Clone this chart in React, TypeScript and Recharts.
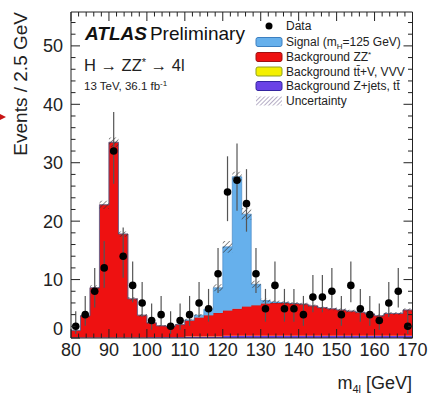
import React from 'react';
import { ComposedChart, Area, Line, Scatter, ErrorBar, XAxis, YAxis } from 'recharts';

// Bin lower edges (GeV), 2.5 GeV bins
const binLow = [80, 82.5, 85, 87.5, 90, 92.5, 95, 97.5, 100, 102.5, 105, 107.5, 110, 112.5, 115, 117.5, 120, 122.5, 125, 127.5, 130, 132.5, 135, 137.5, 140, 142.5, 145, 147.5, 150, 152.5, 155, 157.5, 160, 162.5, 165, 167.5];
const binWidth = 2.5;

// Stacked expectations (events / bin)
const zjets = [0.08, 0.08, 0.08, 0.08, 0.08, 0.08, 0.08, 0.08, 0.12, 0.12, 0.12, 0.12, 0.2, 0.2, 0.2, 0.2, 0.35, 0.35, 0.35, 0.35, 0.35, 0.35, 0.35, 0.35, 0.35, 0.35, 0.35, 0.35, 0.35, 0.35, 0.35, 0.35, 0.35, 0.35, 0.35, 0.35];
const ttv = [0.02, 0.02, 0.02, 0.02, 0.02, 0.02, 0.02, 0.02, 0.02, 0.02, 0.02, 0.02, 0.05, 0.05, 0.05, 0.05, 0.05, 0.05, 0.05, 0.05, 0.05, 0.05, 0.05, 0.05, 0.05, 0.05, 0.05, 0.05, 0.05, 0.05, 0.05, 0.05, 0.05, 0.05, 0.05, 0.05];
const zz = [1.2, 3.7, 8.5, 22.7, 33.4, 17.7, 6.6, 3.8, 2.45, 1.95, 1.85, 2.15, 2.75, 3.25, 3.65, 4.05, 4.3, 4.6, 5.0, 5.2, 5.5, 5.6, 5.6, 5.5, 5.4, 5.1, 4.8, 4.6, 4.4, 4.2, 4.0, 3.7, 3.4, 3.8, 3.8, 4.4];
const signal = [0, 0, 0, 0, 0, 0, 0, 0, 0, 0, 0, 0, 0.1, 0.4, 1.0, 4.3, 10.9, 22.6, 15.8, 3.6, 0.5, 0.15, 0.05, 0, 0, 0, 0, 0, 0, 0, 0, 0, 0, 0, 0, 0];
const uncertainty = [0.1, 0.25, 0.45, 0.7, 0.8, 0.45, 0.3, 0.2, 0.15, 0.12, 0.12, 0.15, 0.2, 0.2, 0.25, 0.6, 1.0, 0.85, 1.0, 0.6, 0.3, 0.25, 0.25, 0.25, 0.25, 0.25, 0.25, 0.25, 0.25, 0.25, 0.25, 0.25, 0.25, 0.25, 0.25, 0.3];

// Observed data
const dataCounts = [2, 4, 8, 12, 32, 14, 9, 6, 3, 4, 2, 3, 4, 6, 5, 11, 25, 27, 23, 11, 5, 9, 5, 5, 4, 7, 7, 8, 4, 9, 5, 4, 3, 6, 8, 2];
const errLow = [1.3, 1.9, 2.8, 3.4, 5.6, 3.7, 2.9, 2.4, 1.6, 1.9, 1.3, 1.6, 1.9, 2.4, 2.2, 3.3, 5.0, 5.2, 4.8, 3.3, 2.2, 2.9, 2.2, 2.2, 1.9, 2.6, 2.6, 2.8, 1.9, 2.9, 2.2, 1.9, 1.6, 2.4, 2.8, 1.3];
const errHigh = [2.6, 3.2, 4.0, 4.6, 6.7, 4.9, 4.1, 3.6, 2.9, 3.2, 2.6, 2.9, 3.2, 3.6, 3.4, 4.4, 6.1, 6.3, 5.9, 4.4, 3.4, 4.1, 3.4, 3.4, 3.2, 3.8, 3.8, 4.0, 3.2, 4.1, 3.4, 3.2, 2.9, 3.6, 4.0, 2.6];

// Axis ticks
const xTicks = [80, 82, 84, 86, 88, 90, 92, 94, 96, 98, 100, 102, 104, 106, 108, 110, 112, 114, 116, 118, 120, 122, 124, 126, 128, 130, 132, 134, 136, 138, 140, 142, 144, 146, 148, 150, 152, 154, 156, 158, 160, 162, 164, 166, 168, 170];
const yTicks = [0, 2, 4, 6, 8, 10, 12, 14, 16, 18, 20, 22, 24, 26, 28, 30, 32, 34, 36, 38, 40, 42, 44, 46, 48, 50, 52, 54];
const xMajor = [80, 90, 100, 110, 120, 130, 140, 150, 160, 170];
const yMajor = [0, 10, 20, 30, 40, 50];

const FONT = '"Liberation Sans", Arial, Helvetica, sans-serif';
const INK = '#222';
const RED = '#ee1111';
const BLUE = '#66b0ec';
const YELLOW = '#f4f000';
const PURPLE = '#6a42e6';

const edges = [...binLow, binLow[binLow.length - 1] + binWidth];
const rows = edges.map((x, i) => {
  const k = Math.min(i, binLow.length - 1);
  const total = zjets[k] + ttv[k] + zz[k] + signal[k];
  return {
    x,
    zjets: zjets[k],
    ttv: ttv[k],
    zz: zz[k],
    signal: signal[k],
    unc: [total - uncertainty[k], total + uncertainty[k]],
  };
});

const points = binLow.map((lo, i) => ({
  x: lo + binWidth / 2,
  y: dataCounts[i],
  err: [errLow[i], errHigh[i]],
}));

const MAJ = 9;
const MIN = 4.5;

function tickX(side: 'bottom' | 'top') {
  return (props: any) => {
    const { x, y, payload } = props;
    const v = payload.value;
    const major = xMajor.includes(v);
    const len = major ? MAJ : MIN;
    const dir = side === 'bottom' ? -1 : 1;
    return (
      <g>
        <line x1={x} x2={x} y1={y} y2={y + dir * len} stroke={INK} strokeWidth={1} />
        {side === 'bottom' && major ? (
          <text x={x} y={y + 5} dy="0.71em" textAnchor="middle" fontSize={18} fill={INK} fontFamily={FONT}>
            {v}
          </text>
        ) : null}
      </g>
    );
  };
}

function tickY(side: 'left' | 'right') {
  return (props: any) => {
    const { x, y, payload } = props;
    const v = payload.value;
    const major = yMajor.includes(v);
    const len = major ? MAJ : MIN;
    const dir = side === 'left' ? 1 : -1;
    return (
      <g>
        <line x1={x} x2={x + dir * len} y1={y} y2={y} stroke={INK} strokeWidth={1} />
        {side === 'left' && major ? (
          <text x={x - 8} y={v === 0 ? y - 9 : y} dy="0.355em" textAnchor="end" fontSize={18} fill={INK} fontFamily={FONT}>
            {v}
          </text>
        ) : null}
      </g>
    );
  };
}

const legendRows = [26, 42, 57, 71.5, 86, 101];

export default function App() {
  return (
    <div style={{ position: 'absolute', left: 0, top: 0, width: 432, height: 397, background: '#fff', fontFamily: FONT }}>
      <ComposedChart width={432} height={397} data={rows} margin={{ top: 12, right: 19.5, bottom: 29, left: 0 }}>
        <defs>
          <pattern id="hatch" patternUnits="userSpaceOnUse" width="3.5" height="3.5" patternTransform="rotate(45)">
            <line x1="0" y1="0" x2="0" y2="3.5" stroke="#333" strokeWidth="1.1" />
          </pattern>
        </defs>
        <XAxis
          dataKey="x"
          type="number"
          domain={[80, 170]}
          ticks={xTicks}
          interval={0}
          height={30}
          tickSize={0}
          tickMargin={0}
          tickLine={false}
          axisLine={{ stroke: INK, strokeWidth: 1 }}
          tick={tickX('bottom')}
        />
        <XAxis
          xAxisId="top"
          orientation="top"
          mirror
          dataKey="x"
          type="number"
          domain={[80, 170]}
          ticks={xTicks}
          interval={0}
          height={2}
          tickSize={0}
          tickMargin={0}
          tickLine={false}
          axisLine={{ stroke: INK, strokeWidth: 1 }}
          tick={tickX('top')}
        />
        <YAxis
          type="number"
          domain={[0, 55.8]}
          ticks={yTicks}
          interval={0}
          width={71}
          tickSize={0}
          tickMargin={0}
          tickLine={false}
          axisLine={{ stroke: INK, strokeWidth: 1 }}
          tick={tickY('left')}
          allowDataOverflow
        />
        <YAxis
          yAxisId="right"
          orientation="right"
          mirror
          type="number"
          domain={[0, 55.8]}
          ticks={yTicks}
          interval={0}
          width={2}
          tickSize={0}
          tickMargin={0}
          tickLine={false}
          axisLine={{ stroke: INK, strokeWidth: 1 }}
          tick={tickY('right')}
          allowDataOverflow
        />
        <Area type="stepAfter" dataKey="zjets" stackId="s" fill={PURPLE} fillOpacity={1} stroke="none" isAnimationActive={false} dot={false} activeDot={false} />
        <Area type="stepAfter" dataKey="ttv" stackId="s" fill={YELLOW} fillOpacity={1} stroke="none" isAnimationActive={false} dot={false} activeDot={false} />
        <Area type="stepAfter" dataKey="zz" stackId="s" fill={RED} fillOpacity={1} stroke="#9a1010" strokeWidth={0.6} isAnimationActive={false} dot={false} activeDot={false} />
        <Area type="stepAfter" dataKey="signal" stackId="s" fill={BLUE} fillOpacity={1} stroke="#3c7fc0" strokeWidth={0.6} isAnimationActive={false} dot={false} activeDot={false} />
        <Area type="stepAfter" dataKey="unc" fill="url(#hatch)" fillOpacity={1} stroke="none" isAnimationActive={false} dot={false} activeDot={false} />
        <Line xAxisId="top" yAxisId="right" type="stepAfter" dataKey="zz" stroke="none" dot={false} activeDot={false} isAnimationActive={false} legendType="none" />
        <Scatter
          data={points}
          dataKey="y"
          isAnimationActive={false}
          shape={(p: any) => <circle cx={p.cx} cy={p.cy} r={3.8} fill="#000" />}
        >
          <ErrorBar dataKey="err" direction="y" width={0} stroke="#555" strokeWidth={1.2} isAnimationActive={false} />
        </Scatter>
      </ComposedChart>

      <svg width={432} height={397} style={{ position: 'absolute', left: 0, top: 0, pointerEvents: 'none' }} fontFamily={FONT}>
        <defs>
          <pattern id="lhatch" patternUnits="userSpaceOnUse" width="3" height="3" patternTransform="rotate(45)">
            <line x1="0" y1="0" x2="0" y2="3" stroke="#6c5c8c" strokeWidth="1" />
          </pattern>
        </defs>
        <polygon points="0,114 6,117 0,120" fill="#c81414" />
        <text transform="translate(27,12) rotate(-90)" textAnchor="end" fontSize={19} fill={INK}>
          Events / 2.5 GeV
        </text>
        <text x={412} y={389} textAnchor="end" fontSize={18} fill={INK}>
          m<tspan fontSize={11} dy={4}>4l</tspan>
          <tspan fontSize={18} dy={-4}> [GeV]</tspan>
        </text>

        <text x={85} y={39.5} fontSize={19} fill="#111">
          <tspan fontWeight="bold" fontStyle="italic">ATLAS</tspan>
          <tspan dx={3}>Preliminary</tspan>
        </text>
        <text x={84} y={71} fontSize={16.5} fill={INK}>
          H → ZZ<tspan fontSize={11} dy={-5}>*</tspan>
          <tspan dy={5}> → 4l</tspan>
        </text>
        <text x={84} y={89.5} fontSize={11.5} fill={INK}>
          13 TeV, 36.1 fb<tspan fontSize={8} dy={-4}>-1</tspan>
        </text>

        {/* legend */}
        <circle cx={269} cy={legendRows[0]} r={3.5} fill="#000" />
        <text x={286} y={legendRows[0] + 4.2} fontSize={12} fill={INK}>Data</text>

        <rect x={256} y={legendRows[1] - 4.5} width={26} height={9} rx={2} fill={BLUE} stroke="#3c7fc0" strokeWidth={1} />
        <text x={286} y={legendRows[1] + 4.2} fontSize={12} fill={INK}>
          Signal (m<tspan fontSize={8} dy={3}>H</tspan>
          <tspan dy={-3}>=125 GeV)</tspan>
        </text>

        <rect x={256} y={legendRows[2] - 4.5} width={26} height={9} rx={2} fill={RED} stroke="#a01010" strokeWidth={1} />
        <text x={286} y={legendRows[2] + 4.2} fontSize={12} fill={INK}>
          Background ZZ<tspan fontSize={8} dy={-4}>*</tspan>
        </text>

        <rect x={256} y={legendRows[3] - 4.5} width={26} height={9} rx={2} fill={YELLOW} stroke="#8fa020" strokeWidth={1} />
        <text x={286} y={legendRows[3] + 4.2} fontSize={12} fill={INK}>Background tt̄+V, VVV</text>

        <rect x={256} y={legendRows[4] - 4.5} width={26} height={9} rx={2} fill={PURPLE} stroke="#3424a0" strokeWidth={1} />
        <text x={286} y={legendRows[4] + 4.2} fontSize={12} fill={INK}>Background Z+jets, tt̄</text>

        <rect x={256} y={legendRows[5] - 4.5} width={26} height={9} fill="url(#lhatch)" />
        <text x={286} y={legendRows[5] + 4.2} fontSize={12} fill={INK}>Uncertainty</text>
      </svg>
    </div>
  );
}
